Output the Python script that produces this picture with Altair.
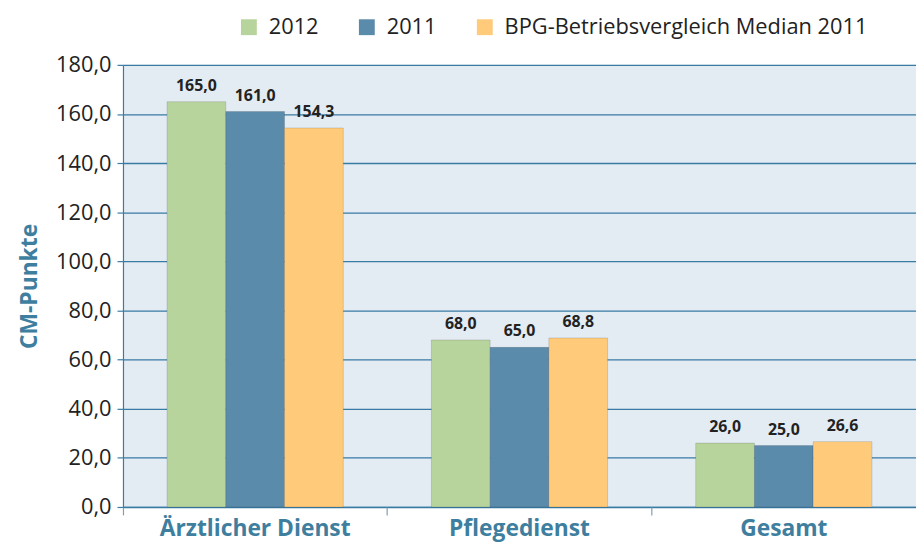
import altair as alt
import pandas as pd

categories = ["Ärztlicher Dienst", "Pflegedienst", "Gesamt"]
series = ["2012", "2011", "BPG-Betriebsvergleich Median 2011"]
values_2012 = [165.0, 68.0, 26.0]
values_2011 = [161.0, 65.0, 25.0]
values_bpg = [154.3, 68.8, 26.6]
colors = ["#B8D49D", "#5B8BAB", "#FFCB7A"]
y_ticks = [0, 20, 40, 60, 80, 100, 120, 140, 160, 180]

rows = []
for s, vals in zip(series, [values_2012, values_2011, values_bpg]):
    for c, v in zip(categories, vals):
        rows.append({"Bereich": c, "Serie": s, "Wert": v})
df = pd.DataFrame(rows)

blue = "#3A7BA3"
font = "Open Sans"

x_scale = alt.Scale(paddingInner=0, paddingOuter=0)
off_scale = alt.Scale(paddingInner=0, paddingOuter=0.75)
y_scale = alt.Scale(domain=[0, 180], nice=False)

base = alt.Chart(df).transform_calculate(
    label="replace(format(datum.Wert, '.1f'), '.', ',')"
)

bars = base.mark_bar(stroke="#00000022", strokeWidth=1).encode(
    x=alt.X("Bereich:N", sort=categories, scale=x_scale,
            axis=alt.Axis(title=None, labelAngle=0, ticks=False, domain=True,
                          orient="bottom",
                          domainColor=blue, domainWidth=1.5,
                          labelFont=font, labelFontWeight="bold", labelFontSize=23,
                          labelColor="#3E7E9E", labelPadding=11, labelLimit=400)),
    xOffset=alt.XOffset("Serie:N", sort=series, scale=off_scale),
    y=alt.Y("Wert:Q", scale=y_scale,
            axis=alt.Axis(values=y_ticks, title="CM-Punkte",
                          labelExpr="replace(format(datum.value, '.1f'), '.', ',')",
                          labelFont=font, labelFontSize=22, labelColor="#222222",
                          labelPadding=6, tickSize=6, tickColor=blue, tickWidth=1.2,
                          domainColor=blue, domainWidth=1.2,
                          gridColor=blue, gridWidth=1.3,
                          titleFont=font, titleFontSize=23, titleFontWeight="bold",
                          titleColor="#3E7E9E", titlePadding=14)),
    color=alt.Color("Serie:N", sort=series,
                    scale=alt.Scale(domain=series, range=colors),
                    legend=alt.Legend(title=None, orient="none", direction="horizontal",
                                      legendX=116, legendY=-49,
                                      symbolType="square", symbolSize=256,
                                      symbolStrokeWidth=0,
                                      labelFont=font, labelFontSize=22,
                                      labelColor="#222222", labelOffset=9,
                                      columnPadding=37, labelLimit=500)),
)

texts = base.mark_text(dy=-16, fontSize=16, fontWeight="bold", font=font,
                       color="#222222").encode(
    x=alt.X("Bereich:N", sort=categories, scale=x_scale,
            axis=alt.Axis(title=None, labels=False, domain=False, ticks=True,
                          orient="bottom",
                          bandPosition=0, tickSize=8, tickColor="#7F9FB5",
                          tickWidth=1.2)),
    xOffset=alt.XOffset("Serie:N", sort=series, scale=off_scale),
    y=alt.Y("Wert:Q", scale=y_scale),
    text=alt.Text("label:N"),
)

chart = alt.layer(bars, texts).resolve_axis(x="independent").properties(
    width=800, height=446,
    padding={"left": 10, "right": 0, "top": 6, "bottom": 4},
).configure_view(fill="#E3EBF3", stroke=None)

chart.save("out.html", embed_options={"renderer": "svg", "actions": False})
